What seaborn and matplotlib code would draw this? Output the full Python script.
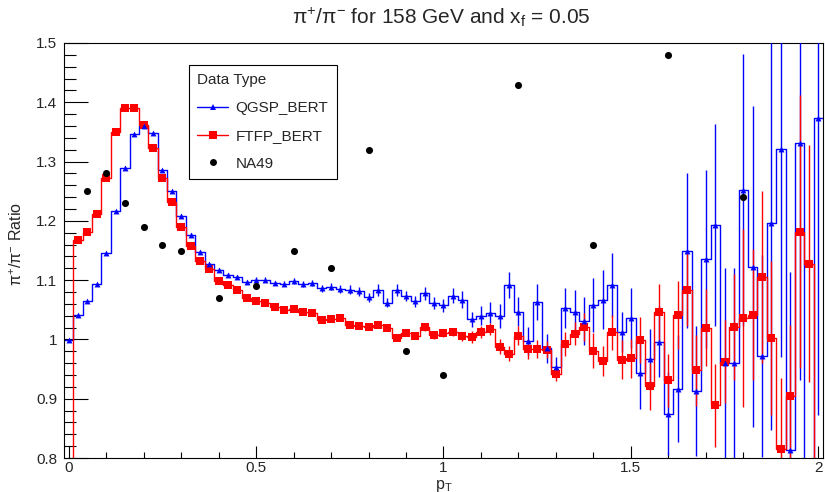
import numpy as np
import pandas as pd
import matplotlib
matplotlib.use("Agg")
import matplotlib.pyplot as plt
from matplotlib.lines import Line2D
from matplotlib.ticker import MultipleLocator, FuncFormatter
import seaborn as sns

# ---------------- data ----------------
pt_centers = np.round(np.arange(81) * 0.025, 4)

qgsp_vals = [0.999, 1.041, 1.064, 1.093, 1.145, 1.217, 1.290, 1.346, 1.360, 1.348,
             1.286, 1.250, 1.208, 1.176, 1.148, 1.127, 1.117, 1.109, 1.105, 1.097,
             1.101, 1.101, 1.095, 1.094, 1.099, 1.094, 1.095, 1.086, 1.089, 1.085,
             1.084, 1.081, 1.071, 1.083, 1.062, 1.084, 1.073, 1.064, 1.078, 1.062,
             1.058, 1.074, 1.067, 1.034, 1.040, 1.045, 1.040, 1.092, 1.047, 0.997,
             1.063, 0.985, 0.953, 1.053, 1.047, 1.031, 1.058, 1.067, 1.091, 1.013,
             1.036, 0.943, 0.967, 0.996, 0.875, 0.917, 1.150, 0.913, 1.136, 1.193,
             0.960, 0.960, 1.252, 1.123, 0.972, 1.197, 1.321, 0.813, 1.331, 0.700,
             1.373]
qgsp_errs = [0.002, 0.002, 0.002, 0.002, 0.002, 0.002, 0.002, 0.002, 0.002, 0.002,
             0.002, 0.002, 0.003, 0.003, 0.003, 0.003, 0.003, 0.003, 0.003, 0.004,
             0.004, 0.004, 0.004, 0.004, 0.005, 0.005, 0.005, 0.006, 0.006, 0.006,
             0.007, 0.007, 0.008, 0.010, 0.008, 0.010, 0.009, 0.009, 0.011, 0.010,
             0.011, 0.013, 0.014, 0.013, 0.016, 0.018, 0.020, 0.022, 0.024, 0.024,
             0.030, 0.025, 0.017, 0.033, 0.037, 0.040, 0.045, 0.050, 0.054, 0.034,
             0.050, 0.060, 0.050, 0.060, 0.070, 0.090, 0.130, 0.110, 0.150, 0.170,
             0.160, 0.160, 0.230, 0.270, 0.170, 0.350, 0.350, 0.300, 0.400, 0.050,
             0.500]

ftfp_vals = [0.500, 1.168, 1.181, 1.212, 1.273, 1.350, 1.390, 1.390, 1.361, 1.323,
             1.273, 1.232, 1.189, 1.158, 1.133, 1.119, 1.099, 1.091, 1.083, 1.070,
             1.065, 1.061, 1.054, 1.050, 1.052, 1.046, 1.045, 1.033, 1.034, 1.036,
             1.025, 1.023, 1.021, 1.024, 1.019, 1.003, 1.011, 1.006, 1.021, 1.008,
             1.011, 1.012, 1.005, 1.004, 1.013, 1.017, 0.988, 0.976, 1.006, 0.984,
             0.984, 0.983, 0.942, 0.992, 1.010, 1.021, 0.981, 0.964, 1.012, 0.966,
             0.968, 0.999, 0.921, 1.046, 0.931, 1.041, 1.084, 0.948, 1.020, 0.889,
             0.962, 1.021, 1.036, 1.042, 1.106, 1.002, 0.815, 0.905, 1.182, 1.128,
             0.500]
ftfp_errs = [0.002, 0.002, 0.002, 0.002, 0.002, 0.002, 0.002, 0.002, 0.002, 0.002,
             0.002, 0.002, 0.002, 0.003, 0.003, 0.003, 0.003, 0.003, 0.003, 0.003,
             0.003, 0.003, 0.003, 0.003, 0.003, 0.004, 0.004, 0.004, 0.004, 0.004,
             0.004, 0.004, 0.005, 0.005, 0.005, 0.005, 0.005, 0.005, 0.007, 0.007,
             0.007, 0.007, 0.007, 0.010, 0.010, 0.010, 0.012, 0.013, 0.016, 0.017,
             0.015, 0.015, 0.012, 0.020, 0.020, 0.023, 0.030, 0.025, 0.030, 0.033,
             0.033, 0.038, 0.040, 0.048, 0.045, 0.057, 0.062, 0.060, 0.065, 0.070,
             0.070, 0.090, 0.150, 0.110, 0.145, 0.130, 0.120, 0.120, 0.230, 0.200,
             0.100]

na49_pt = [0.05, 0.1, 0.15, 0.2, 0.25, 0.3, 0.4, 0.5, 0.6, 0.7, 0.8, 0.9, 1.0,
           1.2, 1.4, 1.6, 1.8]
na49_vals = [1.25, 1.28, 1.23, 1.19, 1.16, 1.15, 1.07, 1.09, 1.15, 1.12, 1.32,
             0.98, 0.94, 1.43, 1.16, 1.48, 1.24]

y_ticks = [0.8, 0.9, 1.0, 1.1, 1.2, 1.3, 1.4, 1.5]
x_ticks = [0, 0.5, 1, 1.5, 2]

# ---------------- style ----------------
sns.set_theme(style="white")
plt.rcParams['font.family'] = ['Liberation Sans', 'DejaVu Sans']
plt.rcParams['mathtext.default'] = 'regular'

df_q = pd.DataFrame({"pt": pt_centers, "ratio": qgsp_vals, "err": qgsp_errs})
df_f = pd.DataFrame({"pt": pt_centers, "ratio": ftfp_vals, "err": ftfp_errs})
df_n = pd.DataFrame({"pt": na49_pt, "ratio": na49_vals})

W, H = 825, 492
fig = plt.figure(figsize=(W / 100, H / 100), dpi=100)
ax = fig.add_axes([64 / W, 1 - 458 / H, (823 - 64) / W, (458 - 43) / H])

BLUE = (0, 0, 1)
RED = (1, 0, 0)

# step histograms
for df, col in ((df_q, BLUE), (df_f, RED)):
    sns.histplot(data=df, x="pt", weights="ratio", binwidth=0.025,
                 binrange=(-0.0125, 2.0125), element="step", fill=False,
                 color=col, linewidth=1.0, ax=ax, zorder=2)

# error bars
ax.errorbar(df_q["pt"], df_q["ratio"], yerr=df_q["err"], fmt="none",
            ecolor=BLUE, elinewidth=1.0, capsize=0, zorder=3)
ax.errorbar(df_f["pt"], df_f["ratio"], yerr=df_f["err"], fmt="none",
            ecolor=RED, elinewidth=1.0, capsize=0, zorder=3)

# markers
sns.scatterplot(data=df_f, x="pt", y="ratio", marker="s", s=30, color=RED,
                edgecolor=RED, linewidth=0, ax=ax, zorder=4)
sns.scatterplot(data=df_q, x="pt", y="ratio", marker="^", s=18, color=BLUE,
                edgecolor=BLUE, linewidth=0, ax=ax, zorder=5)
sns.scatterplot(data=df_n, x="pt", y="ratio", marker="o", s=26, color="black",
                edgecolor="black", linewidth=0, ax=ax, zorder=6)

ax.set_xlim(-0.0125, 2.0125)
ax.set_ylim(0.8, 1.5)

# ticks
ax.set_xticks(x_ticks)
ax.set_yticks(y_ticks)
ax.xaxis.set_minor_locator(MultipleLocator(0.1))
ax.yaxis.set_minor_locator(MultipleLocator(0.02))
fmt = FuncFormatter(lambda v, p: f"{v:g}")
ax.xaxis.set_major_formatter(fmt)
ax.yaxis.set_major_formatter(fmt)
ax.tick_params(axis="y", which="major", direction="in", length=17, width=0.8,
               left=True, right=False, labelsize=11, pad=5, color="black")
ax.tick_params(axis="y", which="minor", direction="in", length=8.5, width=0.8,
               left=True, right=False, color="black")
ax.tick_params(axis="x", which="major", direction="in", length=8.5, width=0.8,
               bottom=True, top=False, labelsize=11, pad=2, color="black")
ax.tick_params(axis="x", which="minor", direction="in", length=4.3, width=0.8,
               bottom=True, top=False, color="black")
for s in ax.spines.values():
    s.set_visible(True)
    s.set_color("black")
    s.set_linewidth(0.8)

ax.set_xlabel(r"$p_{T}$", fontsize=11.5)
ax.xaxis.set_label_coords(0.5, -0.047)
ax.set_ylabel(r"$\pi^{+}/\pi^{-}$ Ratio", fontsize=11.5, va="center")
ax.yaxis.set_label_coords(-0.062, 0.516)
fig.text(441 / W, 1 - 17 / H, r"$\pi^{+}/\pi^{-}$ for 158 GeV and $x_{f}$ = 0.05",
         ha="center", va="center", fontsize=15)

# legend
handles = [
    Line2D([], [], color=BLUE, lw=1, marker="^", markersize=4, markeredgewidth=0),
    Line2D([], [], color=RED, lw=1, marker="s", markersize=5.5, markeredgewidth=0),
    Line2D([], [], color="none", marker="o", markersize=5, markerfacecolor="black",
           markeredgewidth=0),
]
leg = ax.legend(handles, ["QGSP_BERT", "FTFP_BERT", "NA49"], title="Data Type",
                loc="upper left", bbox_to_anchor=(0.1647, 0.947), fontsize=11,
                title_fontsize=11, frameon=True, fancybox=False, edgecolor="black",
                framealpha=1, borderpad=0.55, handlelength=2.0, handletextpad=0.5,
                labelspacing=0.9, alignment="left", borderaxespad=0)
leg.get_frame().set_linewidth(0.8)

fig.savefig("out.png", dpi=100)
